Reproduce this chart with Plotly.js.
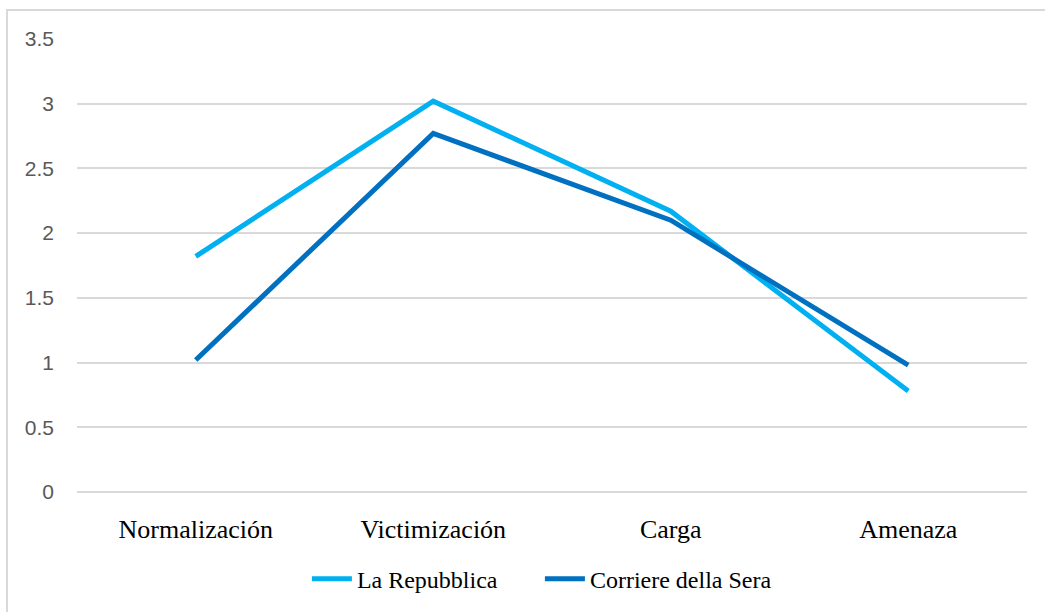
<!DOCTYPE html>
<html>
<head>
<meta charset="utf-8">
<script src="https://cdn.plot.ly/plotly-3.0.1.min.js"></script>
<style>
  body { margin: 0; background: #fff; }
  #chart { width: 1045px; height: 612px; }
  #frame {
    position: absolute; left: 6px; top: 9px; right: 0; bottom: 0;
    border-left: 2px solid #d9d9d9; border-top: 2px solid #d9d9d9;
    pointer-events: none;
  }
</style>
</head>
<body>
<div id="chart"></div>
<div id="frame"></div>
<script>
// categories and series
var categories = ['Normalización', 'Victimización', 'Carga', 'Amenaza'];
var repubblica = [1.82, 3.02, 2.17, 0.78];
var corriere = [1.02, 2.77, 2.10, 0.98];
var yTicks = [0, 0.5, 1, 1.5, 2, 2.5, 3, 3.5];

var serif = 'Liberation Serif';

var traceRep = {
  type: 'scatter',
  mode: 'lines',
  x: categories,
  y: repubblica,
  name: 'La Repubblica',
  line: { color: '#00b0f0', width: 5 }
};

var traceCor = {
  type: 'scatter',
  mode: 'lines',
  x: categories,
  y: corriere,
  name: 'Corriere della Sera',
  line: { color: '#0070c0', width: 5 }
};

var layout = {
  width: 1045,
  height: 612,
  margin: { l: 77, r: 18, t: 39, b: 119 },
  paper_bgcolor: '#fff',
  plot_bgcolor: '#fff',
  font: { family: serif, color: '#000' },
  showlegend: true,
  legend: {
    orientation: 'h',
    x: 0.242, xanchor: 'left',
    y: -0.19, yanchor: 'middle',
    font: { family: serif, size: 24, color: '#000' },
    itemwidth: 40,
    entrywidth: 178,
    entrywidthmode: 'pixels'
  },
  xaxis: {
    type: 'category',
    range: [-0.5, 3.5],
    showgrid: false,
    zeroline: false,
    showline: false,
    ticks: '',
    ticklabelstandoff: 19,
    tickfont: { family: serif, size: 26, color: '#000' }
  },
  yaxis: {
    range: [0, 3.5],
    tickvals: yTicks,
    showgrid: true,
    gridcolor: '#d9d9d9',
    gridwidth: 1.5,
    zeroline: true,
    zerolinecolor: '#d9d9d9',
    zerolinewidth: 1.5,
    showline: false,
    ticks: '',
    ticklabelstandoff: 22,
    tickfont: { family: 'Liberation Sans', size: 21, color: '#595959' }
  }
};

Plotly.newPlot('chart', [traceRep, traceCor], layout, { displayModeBar: false });
</script>
</body>
</html>
